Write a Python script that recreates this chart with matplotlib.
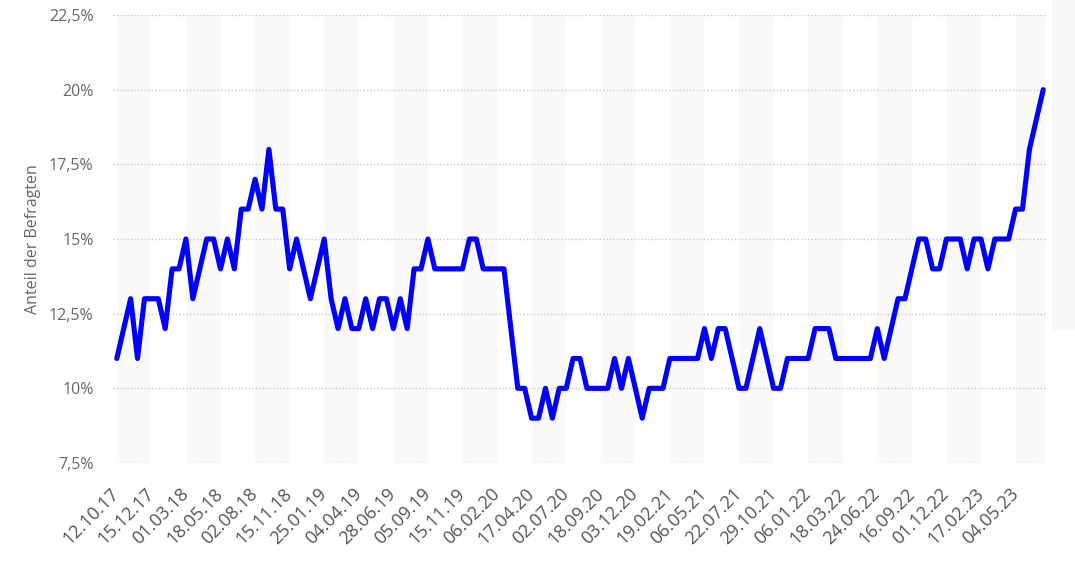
import numpy as np
import matplotlib

matplotlib.use("Agg")
import matplotlib.pyplot as plt
from matplotlib.patches import Rectangle

# share of respondents (%), one value per survey wave
share = [
    11, 12, 13, 11, 13, 13, 13, 12, 14, 14, 15, 13, 14, 15, 15, 14, 15, 14, 16, 16, 17, 16, 18, 16,
    16, 14, 15, 14, 13, 14, 15, 13, 12, 13, 12, 12, 13, 12, 13, 13, 12, 13, 12, 14, 14, 15, 14,
    14, 14, 14, 14, 15, 15, 14, 14, 14, 14, 12, 10, 10, 9, 9, 10, 9, 10, 10, 11, 11, 10,
    10, 10, 10, 11, 10, 11, 10, 9, 10, 10, 10, 11, 11, 11, 11, 11, 12, 11, 12, 12, 11, 10, 10,
    11, 12, 11, 10, 10, 11, 11, 11, 11, 12, 12, 12, 11, 11, 11, 11, 11, 11, 12, 11, 12, 13, 13, 14,
    15, 15, 14, 14, 15, 15, 15, 14, 15, 15, 14, 15, 15, 15, 16, 16, 18, 19, 20,
]

# every 5th wave gets a label
date_labels = [
    "12.10.17", "15.12.17", "01.03.18", "18.05.18", "02.08.18", "15.11.18", "25.01.19",
    "04.04.19", "28.06.19", "05.09.19", "15.11.19", "06.02.20", "17.04.20", "02.07.20",
    "18.09.20", "03.12.20", "19.02.21", "06.05.21", "22.07.21", "29.10.21", "06.01.22",
    "18.03.22", "24.06.22", "16.09.22", "01.12.22", "17.02.23", "04.05.23",
]
label_step = 5

y_ticks = [7.5, 10, 12.5, 15, 17.5, 20, 22.5]
y_ticklabels = ["7,5%", "10%", "12,5%", "15%", "17,5%", "20%", "22,5%"]

plt.rcParams["font.family"] = ["Open Sans", "DejaVu Sans"]

fig = plt.figure(figsize=(10.75, 5.65), dpi=100)
ax = fig.add_axes([113 / 1075, 1 - 463 / 565, (1046 - 113) / 1075, (463 - 15) / 565])

x = np.arange(len(share))
tick_pos = np.arange(len(date_labels)) * label_step

# alternating background bands between label ticks
for k, start in enumerate(tick_pos):
    if k % 2 == 0:
        ax.axvspan(start, start + label_step, color="#f9f9f9", lw=0, zorder=0)

ax.plot(x, share, color="#0000ff", lw=3.7, solid_joinstyle="round",
        solid_capstyle="round", zorder=3)

ax.set_xlim(-0.55, 134.4)
ax.set_ylim(7.5, 22.5)

ax.set_yticks(y_ticks)
ax.set_yticklabels(y_ticklabels)
ax.set_xticks(tick_pos)
ax.set_xticklabels(date_labels, rotation=45, ha="right", va="center",
                   rotation_mode="anchor")

ax.tick_params(axis="y", length=0, pad=14, labelsize=11.5, labelcolor="#666666")
ax.tick_params(axis="x", length=0, pad=20, labelsize=13, labelcolor="#555555")

ax.grid(axis="y", color="#c8c8c8", linestyle=(0, (1, 1.5)), lw=1)
ax.grid(axis="x", visible=False)
ax.set_axisbelow(True)
for s in ax.spines.values():
    s.set_visible(False)

ax.set_ylabel("Anteil der Befragten", fontsize=11.5, color="#666666", labelpad=6)

# faint sidebar on the right edge
fig.patches.append(Rectangle((1052 / 1075, 1 - 330 / 565), 23 / 1075, 330 / 565,
                             transform=fig.transFigure, color="#f7f7f7", lw=0, zorder=0))

fig.savefig("out.png", dpi=100)
